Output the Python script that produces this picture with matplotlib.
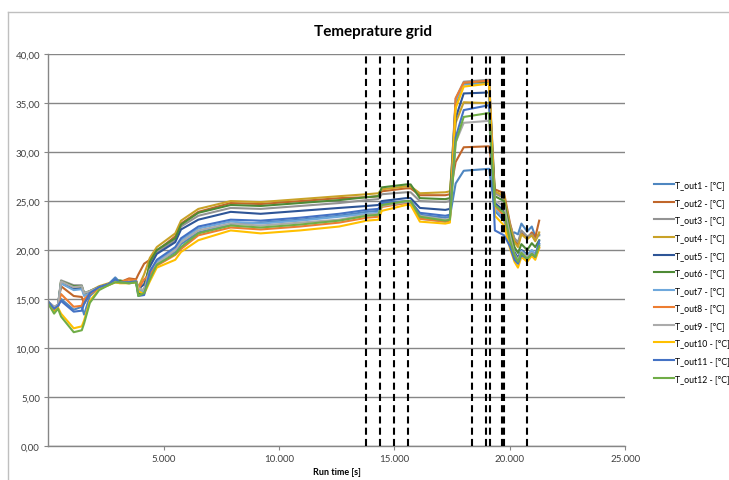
import numpy as np
import matplotlib.pyplot as plt
from matplotlib.lines import Line2D

plt.rcParams['font.family'] = ['Lato', 'DejaVu Sans']

# run time knots [s]
run_time = [0, 250, 420, 550, 1100, 1450, 1550, 1800, 2200, 2600, 2900, 3100, 3500, 3800, 3900, 4150,
            4400, 4700, 5500, 5750, 6500, 7900,
            9200, 10900, 12600, 13800, 14300, 14450, 15500, 15700, 16100, 17200, 17400,
            17650, 18000, 19100,
            19350, 19750, 20000, 20200, 20350, 20500, 20750, 20950, 21100, 21270]

# temperatures [°C]
t_out1 = [14.7, 14.0, 14.3, 15.0, 13.9, 14.2, 13.4, 15.3, 16.2, 16.5, 17.2, 16.7, 16.7, 16.8, 15.6, 15.8,
          17.4, 18.7, 19.8, 20.6, 21.8, 22.6,
          22.8, 23.1, 23.5, 23.9, 24.0, 24.6, 24.9, 24.9, 23.6, 23.3, 23.4,
          26.8, 28.1, 28.3,
          24.0, 23.0, 21.5, 21.8, 21.6, 22.7, 21.9, 22.4, 21.4, 21.5]
t_out2 = [14.6, 13.8, 14.4, 16.3, 15.3, 15.2, 14.5, 15.6, 16.2, 16.5, 16.8, 16.7, 17.1, 17.0, 17.5, 18.6,
          19.0, 19.9, 21.4, 22.7, 23.9, 24.8,
          24.7, 25.0, 25.3, 25.4, 25.5, 26.0, 26.3, 26.3, 25.6, 25.6, 25.7,
          29.0, 30.5, 30.6,
          26.2, 25.8, 22.8, 21.0, 20.5, 21.8, 21.2, 21.8, 21.3, 23.0]
t_out3 = [14.7, 14.2, 14.4, 16.9, 16.4, 16.4, 15.5, 15.8, 16.2, 16.5, 16.8, 16.7, 16.7, 16.8, 16.0, 15.9,
          18.6, 19.8, 21.0, 22.4, 23.5, 24.3,
          24.2, 24.5, 24.8, 25.1, 25.2, 25.7, 25.9, 25.9, 25.0, 24.9, 25.0,
          35.5, 37.2, 37.4,
          25.8, 25.3, 22.6, 21.2, 20.8, 22.0, 21.4, 21.6, 21.0, 21.6]
t_out4 = [14.6, 14.0, 14.3, 16.7, 16.1, 16.2, 15.4, 15.8, 16.3, 16.6, 16.8, 16.7, 16.8, 16.9, 16.2, 17.5,
          19.2, 20.3, 21.7, 23.0, 24.2, 25.0,
          24.9, 25.2, 25.5, 25.7, 25.8, 26.2, 26.5, 26.5, 25.8, 25.9, 26.0,
          33.0, 35.1, 35.0,
          26.0, 25.5, 22.5, 20.8, 20.3, 21.6, 21.1, 21.5, 20.9, 21.8]
t_out5 = [14.7, 14.1, 14.4, 16.6, 16.0, 16.1, 15.6, 15.7, 16.2, 16.5, 16.8, 16.7, 16.7, 16.8, 16.0, 16.5,
          18.3, 19.6, 20.8, 22.1, 23.1, 23.9,
          23.7, 24.0, 24.3, 24.5, 24.6, 25.0, 25.3, 25.3, 24.3, 24.1, 24.2,
          33.5, 36.0, 36.1,
          24.8, 24.0, 21.2, 19.8, 19.2, 20.0, 19.5, 19.9, 19.5, 20.6]
t_out6 = [14.6, 13.7, 14.2, 16.8, 16.3, 16.3, 15.6, 15.8, 16.2, 16.5, 16.8, 16.9, 16.7, 16.8, 15.5, 15.8,
          18.8, 20.0, 21.2, 22.6, 23.8, 24.6,
          24.5, 24.8, 25.1, 25.4, 25.5, 26.4, 26.7, 26.7, 25.3, 25.2, 25.3,
          35.0, 37.0, 37.1,
          25.5, 25.0, 22.0, 20.3, 19.7, 20.6, 20.0, 20.7, 20.3, 21.0]
t_out7 = [14.7, 14.1, 14.4, 16.6, 15.9, 16.0, 15.3, 15.6, 16.1, 16.4, 16.8, 16.7, 16.6, 16.7, 15.9, 15.7,
          17.6, 18.8, 20.1, 21.0, 22.2, 22.9,
          22.7, 23.0, 23.4, 23.7, 23.8, 24.5, 24.8, 24.8, 23.2, 22.9, 23.0,
          35.2, 36.9, 37.0,
          24.2, 23.2, 20.5, 19.2, 18.8, 19.9, 19.4, 20.0, 19.6, 20.6]
t_out8 = [14.6, 13.9, 14.3, 15.5, 14.2, 14.3, 15.0, 15.5, 16.1, 16.5, 16.7, 16.7, 17.0, 16.9, 16.0, 17.0,
          17.5, 18.4, 19.5, 20.1, 21.5, 22.3,
          22.1, 22.4, 22.8, 23.3, 23.4, 24.4, 24.8, 24.8, 23.2, 22.9, 23.0,
          35.5, 37.1, 37.3,
          24.5, 23.5, 20.8, 19.3, 18.7, 19.6, 19.0, 19.5, 19.2, 20.2]
t_out9 = [14.7, 14.2, 14.4, 16.8, 16.2, 16.3, 15.6, 15.8, 16.2, 16.5, 16.8, 16.7, 16.7, 16.8, 16.1, 15.9,
          18.0, 18.6, 20.0, 20.8, 22.0, 22.7,
          22.5, 22.8, 23.1, 23.6, 23.7, 24.5, 24.9, 24.9, 23.5, 23.1, 23.2,
          31.0, 33.0, 33.2,
          25.0, 24.5, 21.5, 19.6, 19.0, 19.8, 19.3, 19.7, 19.4, 20.4]
t_out10 = [14.6, 13.6, 14.1, 13.5, 12.0, 12.2, 12.8, 14.8, 16.0, 16.4, 16.7, 16.6, 16.6, 16.7, 15.8, 15.5,
           16.8, 18.2, 19.0, 19.8, 21.0, 22.0,
           21.7, 22.0, 22.4, 23.0, 23.1, 24.0, 24.6, 24.6, 22.9, 22.7, 22.8,
           34.5, 36.7, 37.0,
           23.5, 22.5, 20.2, 18.8, 18.2, 19.3, 18.8, 19.4, 19.0, 20.2]
t_out11 = [14.7, 14.0, 14.3, 14.8, 13.7, 13.8, 14.5, 15.6, 16.2, 16.5, 17.0, 16.7, 16.7, 16.8, 15.3, 15.4,
           17.8, 19.0, 20.3, 21.2, 22.4, 23.1,
           23.0, 23.3, 23.7, 24.1, 24.2, 24.8, 25.0, 25.0, 23.8, 23.5, 23.6,
           31.5, 34.3, 34.8,
           22.0, 21.5, 20.4, 19.0, 18.6, 19.5, 19.1, 19.6, 19.3, 20.9]
t_out12 = [14.5, 13.5, 14.0, 13.2, 11.6, 11.8, 12.5, 14.6, 15.9, 16.4, 16.7, 16.7, 16.6, 16.7, 15.3, 15.6,
           17.0, 18.5, 19.6, 20.3, 21.7, 22.5,
           22.3, 22.6, 23.0, 23.5, 23.6, 24.6, 25.0, 25.0, 23.4, 23.0, 23.1,
           31.0, 33.6, 34.0,
           24.6, 23.8, 21.0, 19.5, 18.8, 19.7, 19.1, 19.6, 19.3, 20.4]

series = [t_out1, t_out2, t_out3, t_out4, t_out5, t_out6,
          t_out7, t_out8, t_out9, t_out10, t_out11, t_out12]
labels = ['T_out%d - [°C]' % (i + 1) for i in range(12)]
colors = ['#4E86C0', '#C0662A', '#939393', '#C9A227', '#2E5597', '#4E8A35',
          '#6FA8DC', '#ED7D31', '#ABABAB', '#FFC000', '#4472C4', '#70AD47']

# event markers (dashed vertical lines)
events = [13780, 14385, 14980, 15585, 18370, 18975, 19125, 19670, 19755, 20730]

fig = plt.figure(figsize=(7.29, 4.81), dpi=100)
ax = fig.add_axes([0.0663, 0.0713, 0.7914, 0.8137])

for y, c, lab in zip(series, colors, labels):
    ax.plot(run_time, y, color=c, lw=1.5, label=lab)

for e in events:
    ax.axvline(e, color='black', lw=1.5, ls=(0, (3.4, 2)), zorder=5)

ax.set_xlim(0, 25000)
ax.set_ylim(0, 40)
ax.set_yticks(np.arange(0, 41, 5))
ax.set_yticklabels([('%.2f' % v).replace('.', ',') for v in np.arange(0, 41, 5)])
ax.set_xticks(np.arange(5000, 25001, 5000))
ax.set_xticklabels([('{:,}'.format(v)).replace(',', '.') for v in range(5000, 25001, 5000)])
ax.tick_params(axis='both', labelsize=7, length=3, pad=3, colors='#868686', labelcolor='#404040')

ax.grid(axis='y', color='#868686', lw=1)
ax.set_axisbelow(True)
for s in ['top', 'right']:
    ax.spines[s].set_visible(False)
for s in ['left', 'bottom']:
    ax.spines[s].set_color('#868686')
    ax.spines[s].set_linewidth(1)

ax.set_xlabel('Run time [s]', fontsize=6.5, fontweight='bold', labelpad=3)
fig.text(373 / 729, 1 - 32 / 481, 'Temeprature grid', ha='center', va='center',
         fontsize=11, fontweight='bold')

fig.legend(loc='upper left', bbox_to_anchor=(650 / 729, 1 - 177 / 481), frameon=False,
           fontsize=6.3, handlelength=2.2, handletextpad=0.2, labelspacing=0.98, borderpad=0)

# chart area border (left and top)
fig.add_artist(Line2D([8 / 729, 8 / 729], [0, 1 - 13 / 481], color='#BFBFBF', lw=1))
fig.add_artist(Line2D([8 / 729, 1], [1 - 13 / 481, 1 - 13 / 481], color='#BFBFBF', lw=1))

fig.savefig('out.png', dpi=100)
